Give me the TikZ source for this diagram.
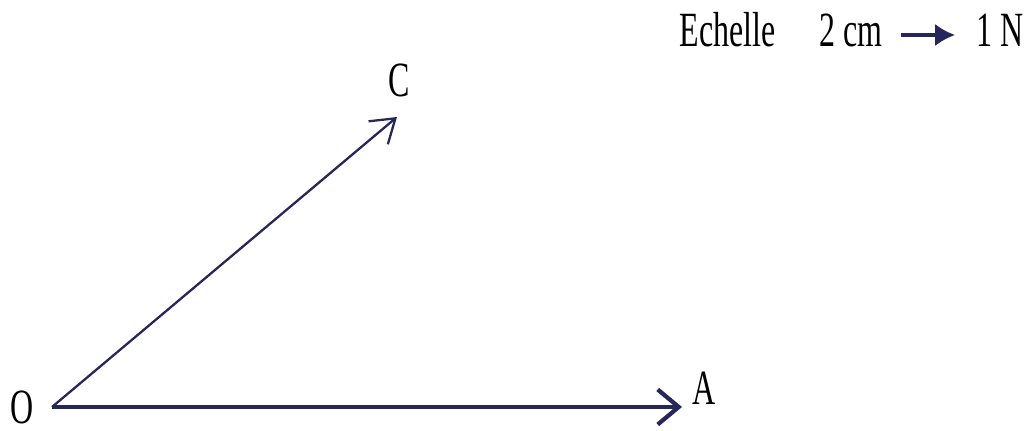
\documentclass[tikz,border=0pt]{standalone}
\usepackage{fontspec}
\setmainfont{Liberation Serif}
\usepackage{graphicx}
\usetikzlibrary{arrows.meta,positioning}
\definecolor{vecnavy}{RGB}{38,38,90}
\newcommand{\narrowtxt}[1]{\scalebox{0.65}[1]{#1}}
\tikzset{
  lbl/.style={font=\fontsize{28}{30}\selectfont, text=black, inner sep=0pt},
  vecthick/.style={vecnavy, line width=2.4pt,
    -{Straight Barb[length=0.42cm,width=0.7cm]}},
  vecthin/.style={vecnavy, line width=1.3pt,
    -{Straight Barb[length=0.45cm,width=0.6cm]}}
}

\begin{document}
\begin{tikzpicture}
    \useasboundingbox (0,0) rectangle (20.56,8.6);
    % Points
    \coordinate (O) at (1.04,0.46);
    \coordinate (A) at (13.64,0.46);
    \coordinate (C) at (7.94,6.26);
    % Labels
    \node[lbl] (Olbl) at (0.45,0.45) {\narrowtxt{O}};
    \node[lbl] (Albl) at (14.09,0.83) {\narrowtxt{A}};
    \node[lbl] (Clbl) at (7.98,7.0) {\narrowtxt{C}};
    % Vectors
    \draw[vecthick] (O) -- (A);
    \draw[vecthin] (O) -- (C);
    % Scale
    \node[lbl] (echelle) at (14.55,8.0) {\narrowtxt{Echelle}};
    \node[lbl] (dist) at (17.02,8.0) {\narrowtxt{2 cm}};
    \node[lbl] (force) at (20.0,8.0) {\narrowtxt{1 N}};
    \draw[vecnavy, line width=2pt, -{Latex[length=0.4cm,width=0.45cm]},
      shorten <=0.36cm, shorten >=0.42cm]
      ([yshift=-0.1cm]dist.east) -- ([yshift=-0.1cm]force.west);
\end{tikzpicture}
\end{document}
